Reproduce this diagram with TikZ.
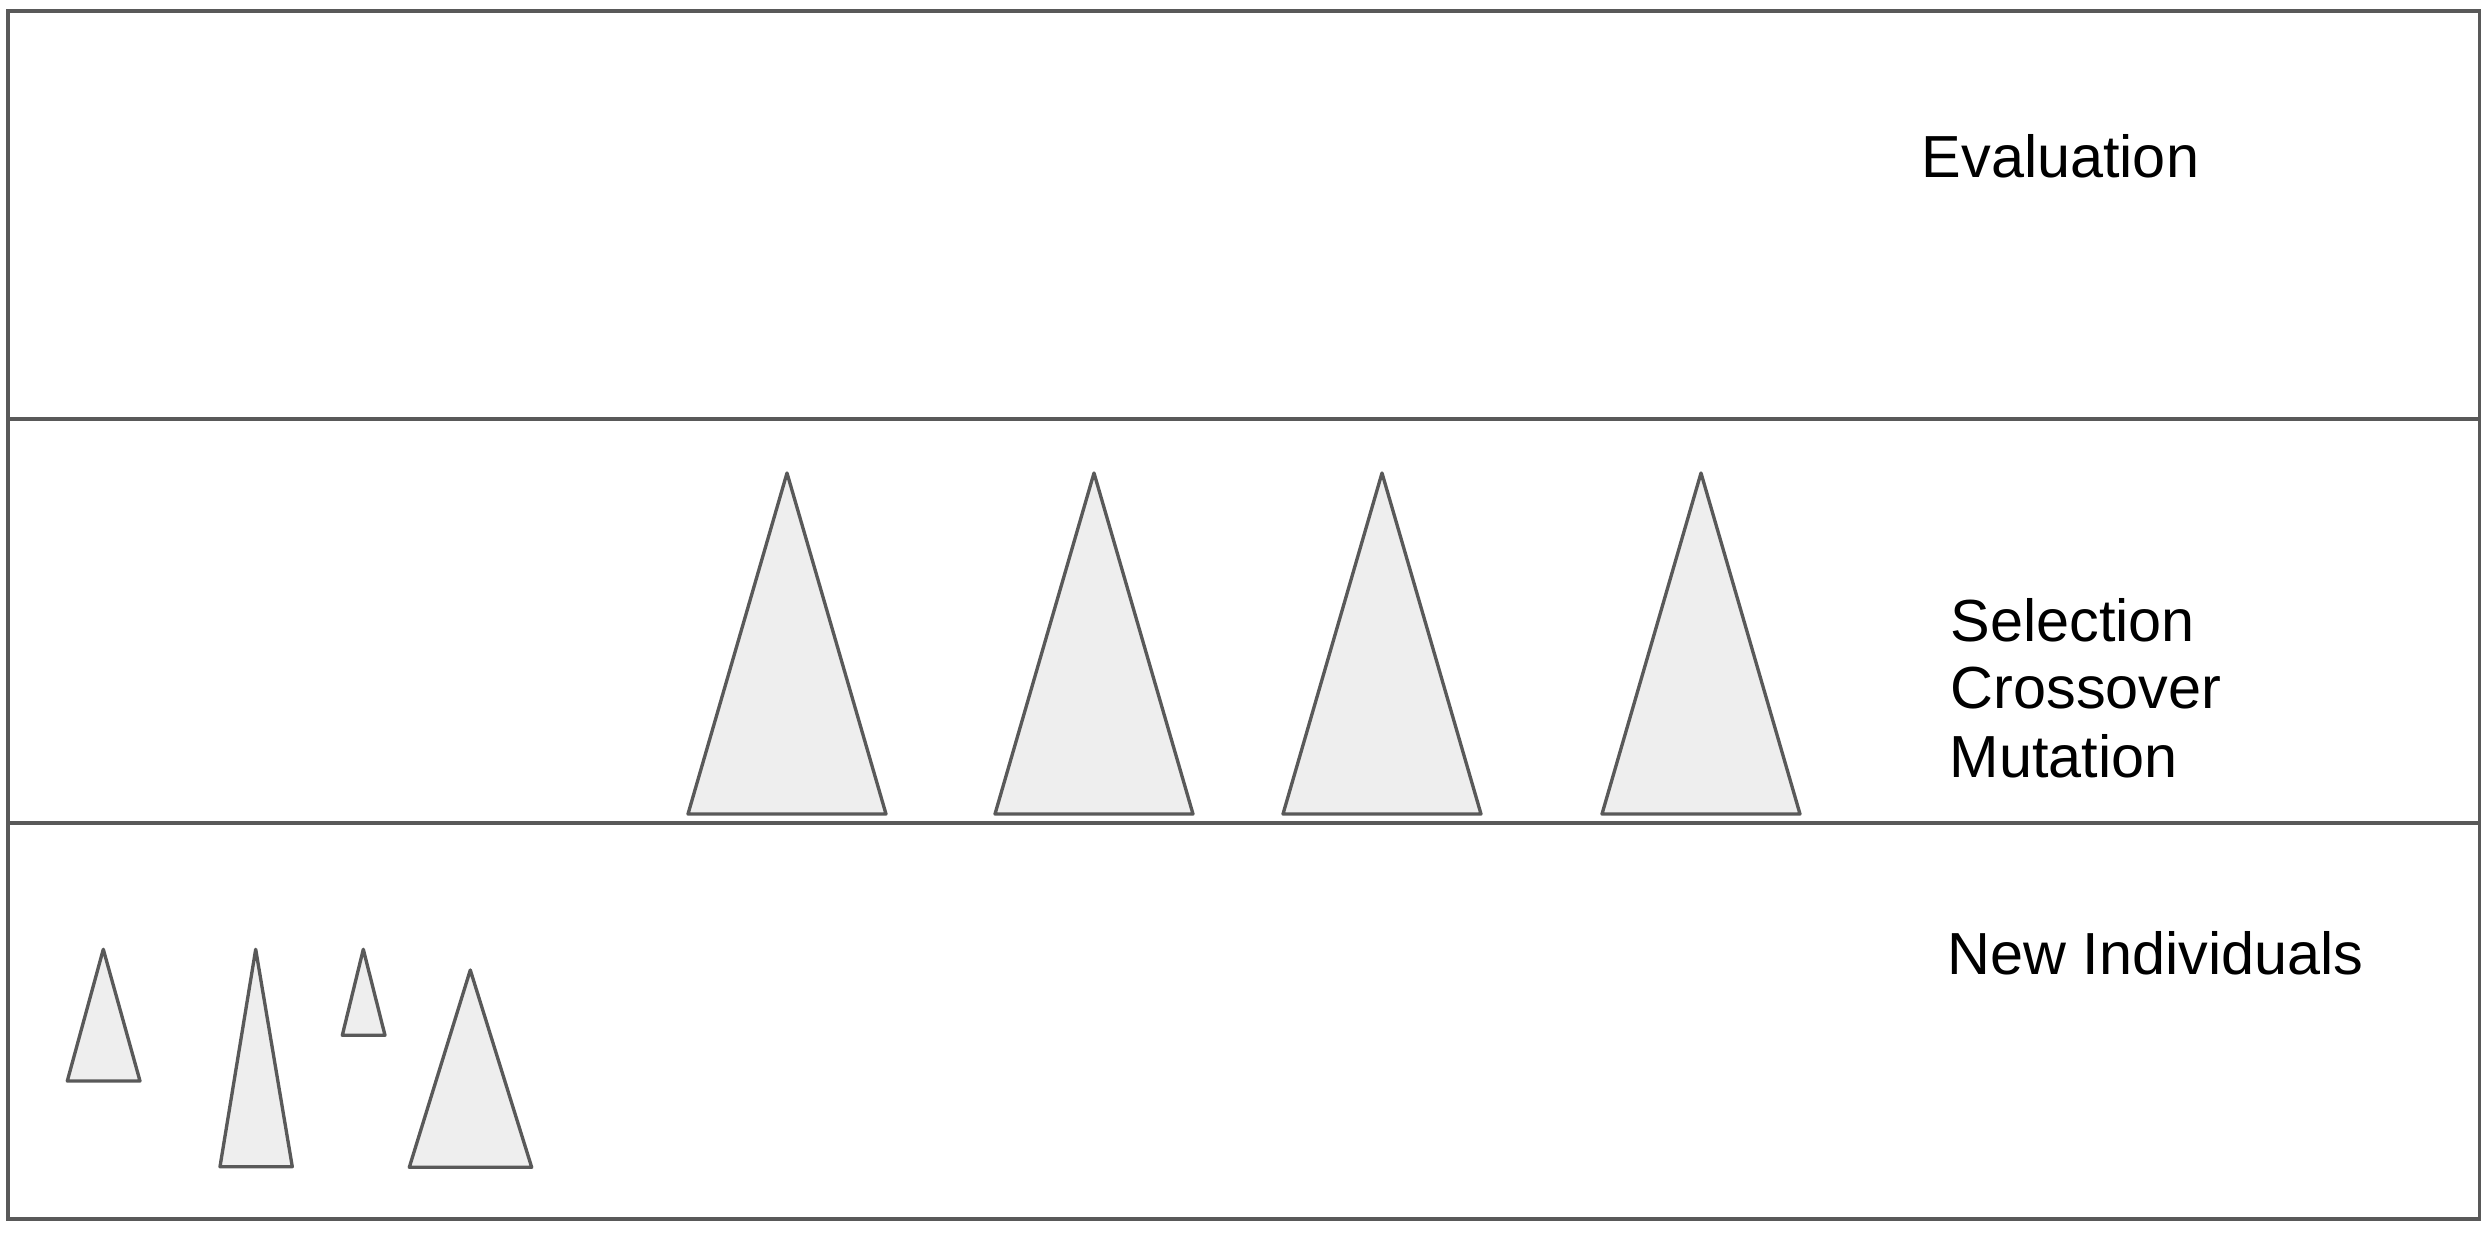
\documentclass[tikz,border=0pt]{standalone}
\usepackage{fontspec}
\setmainfont{Liberation Sans}
\definecolor{edgegray}{HTML}{595959}
\definecolor{fillgray}{HTML}{EEEEEE}
\tikzset{
  frame/.style={draw=edgegray, line width=0.95pt},
  indiv/.style={draw=edgegray, fill=fillgray, line width=0.95pt, line join=round},
  label/.style={inner sep=0pt, anchor=base west, font=\fontsize{16.9}{19.4}\selectfont}
}

\begin{document}
\begin{tikzpicture}
\useasboundingbox (0,0) rectangle (24.90,-12.32);
% Frame and layers
\draw[frame] (0.08,-0.11) rectangle (24.795,-12.19);
\draw[frame] (0.08,-4.19) -- (24.795,-4.19);
\draw[frame] (0.08,-8.23) -- (24.795,-8.23);
% Evaluation
\node[label] (eval) at (19.21,-1.77) {Evaluation};
% Selection, crossover, mutation
\node[label] (sel) at (19.50,-6.41) {Selection};
\node[label] (cross) at (19.50,-7.08) {Crossover};
\node[label] (mut) at (19.49,-7.77) {Mutation};
\draw[indiv] (7.87,-4.73) -- (8.86,-8.14) -- (6.88,-8.14) -- cycle;
\draw[indiv] (10.94,-4.73) -- (11.93,-8.14) -- (9.95,-8.14) -- cycle;
\draw[indiv] (13.82,-4.73) -- (14.81,-8.14) -- (12.83,-8.14) -- cycle;
\draw[indiv] (17.01,-4.73) -- (18.00,-8.14) -- (16.02,-8.14) -- cycle;
% New individuals
\node[label] (new) at (19.47,-9.74) {New Individuals};
\draw[indiv] (1.033,-9.493) -- (1.400,-10.81) -- (0.673,-10.81) -- cycle;
\draw[indiv] (2.557,-9.493) -- (2.923,-11.667) -- (2.200,-11.667) -- cycle;
\draw[indiv] (3.633,-9.493) -- (3.850,-10.353) -- (3.423,-10.353) -- cycle;
\draw[indiv] (4.703,-9.700) -- (5.317,-11.673) -- (4.093,-11.673) -- cycle;
\end{tikzpicture}
\end{document}
